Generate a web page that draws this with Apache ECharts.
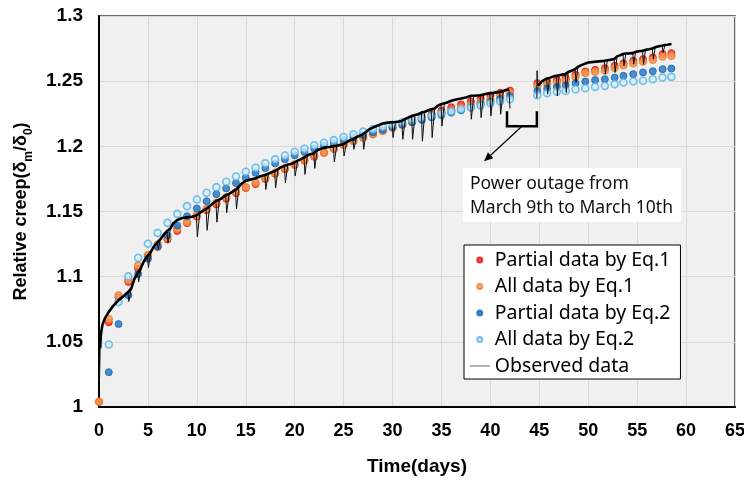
<!DOCTYPE html>
<html><head><meta charset="utf-8">
<script src="https://cdn.jsdelivr.net/npm/echarts@6/dist/echarts.min.js"></script>
<style>html,body{margin:0;padding:0;background:#fff}#c{width:744px;height:481px}</style>
</head><body><div id="c"></div>
<script>
// ---------- data ----------
const modelDays = [0,1,2,3,4,5,6,7,8,9,10,11,12,13,14,15,16,17,18,19,20,21,22,23,24,25,26,27,28,29,30,31,32,33,34,35,36,37,38,39,40,41,42,
  44.8,45.8,46.8,47.7,48.7,49.7,50.7,51.7,52.7,53.6,54.6,55.6,56.6,57.6,58.5];
const partialEq1 = [1.004,1.065,1.084,1.096,1.106,1.1156,1.1228,1.1285,1.135,1.141,1.146,1.151,1.1555,1.1598,1.164,1.168,1.171,1.175,1.179,1.1825,1.1857,1.189,1.192,1.195,1.198,1.201,1.204,1.2067,1.2095,1.212,1.2147,1.2173,1.22,1.2225,1.225,1.2275,1.23,1.2322,1.2345,1.2367,1.239,1.2412,1.2428,
  1.2485,1.2495,1.251,1.2523,1.2549,1.2575,1.2587,1.26,1.2618,1.2638,1.2656,1.2669,1.2682,1.2708,1.2715];
const allEq1 = [1.004,1.0675,1.0855,1.0975,1.1085,1.1167,1.1246,1.1297,1.1367,1.1418,1.1474,1.152,1.1567,1.161,1.1649,1.1687,1.1721,1.1759,1.1797,1.1831,1.1862,1.1895,1.1925,1.1951,1.1985,1.2013,1.2041,1.2067,1.2093,1.2118,1.2143,1.2166,1.2188,1.221,1.2232,1.2254,1.2275,1.2296,1.2318,1.2338,1.2358,1.2385,1.2413,
  1.2464,1.248,1.249,1.2503,1.2533,1.2562,1.2572,1.2582,1.2602,1.2623,1.2638,1.2651,1.2664,1.269,1.2695];
const partialEq2 = [null,1.0267,1.0636,1.0857,1.1021,1.1138,1.1233,1.1318,1.1392,1.1464,1.1523,1.1579,1.1633,1.1677,1.1718,1.1759,1.1797,1.1833,1.1869,1.19,1.1931,1.1956,1.1983,1.2005,1.2026,1.2048,1.2068,1.2088,1.2108,1.2128,1.2147,1.2166,1.2185,1.2203,1.2222,1.224,1.2258,1.2276,1.2298,1.232,1.2342,1.2364,1.2385,
  1.2425,1.2444,1.2456,1.2469,1.2485,1.2498,1.2508,1.2515,1.2528,1.2541,1.2554,1.2567,1.2577,1.2592,1.2597];
const allEq2 = [null,1.048,1.0805,1.1002,1.1144,1.1252,1.1336,1.1413,1.1482,1.1541,1.1592,1.1644,1.1687,1.1728,1.1769,1.1805,1.1836,1.1869,1.19,1.193,1.1959,1.1982,1.2008,1.2028,1.2048,1.2072,1.2092,1.2113,1.2132,1.215,1.2168,1.2185,1.2202,1.2218,1.2234,1.2252,1.2268,1.2284,1.2298,1.2314,1.233,1.2346,1.2362,
  1.2392,1.2408,1.242,1.2425,1.2438,1.2446,1.2456,1.2464,1.2477,1.249,1.2498,1.2503,1.2515,1.2528,1.2533];
// observed record [time (days), relative creep]; null = power outage gap
const observed = [
[0.05,1.020],[0.12,1.045],[0.2,1.056],[0.35,1.063],[0.6,1.068],[1.0,1.073],[1.5,1.078],[2.0,1.082],[2.5,1.085],[2.95,1.088],[3.05,1.081],[3.3,1.091],[3.6,1.098],[3.95,1.104],[4.05,1.096],[4.3,1.107],[4.6,1.112],[4.95,1.117],[5.05,1.107],[5.3,1.119],[5.6,1.123],[5.95,1.127],[6.05,1.121],[6.3,1.129],[6.6,1.132],[6.95,1.135],[7.05,1.126],[7.3,1.137],[7.6,1.141],[8.0,1.1435],[8.5,1.145],[9.0,1.1455],[9.5,1.146],[9.95,1.147],
[10.05,1.1305],[10.3,1.149],[10.6,1.1505],[10.95,1.152],[11.05,1.1356],[11.3,1.154],[11.6,1.156],[11.95,1.158],[12.05,1.1418],[12.3,1.159],[12.6,1.1605],[12.95,1.1625],[13.05,1.149],[13.3,1.1635],[13.6,1.165],[13.95,1.1665],[14.05,1.152],[14.3,1.169],[14.6,1.1715],[15.0,1.1735],[15.5,1.1745],[16.0,1.1755],[16.5,1.177],[16.95,1.178],
[17.05,1.1669],[17.3,1.179],[17.6,1.180],[17.95,1.181],[18.05,1.1682],[18.3,1.1825],[18.6,1.184],[18.95,1.185],[19.05,1.172],[19.3,1.186],[19.6,1.1865],[19.95,1.1874],[20.05,1.1772],[20.3,1.189],[20.6,1.190],[20.95,1.1913],[21.05,1.1785],[21.3,1.193],[21.6,1.194],[21.95,1.1946],[22.05,1.183],[22.3,1.197],[22.6,1.198],[23.0,1.199],[23.5,1.1995],[23.95,1.2],
[24.05,1.188],[24.3,1.2005],[24.6,1.201],[24.95,1.2015],[25.05,1.1926],[25.3,1.203],[25.6,1.2045],[25.95,1.2054],[26.05,1.1977],[26.3,1.207],[26.6,1.208],[26.95,1.2092],[27.05,1.1977],[27.3,1.211],[27.6,1.213],[28.0,1.2144],[28.5,1.216],[29.0,1.2175],[29.5,1.2182],[29.95,1.2185],
[30.05,1.2067],[30.3,1.2187],[30.6,1.219],[30.95,1.2195],[31.05,1.2054],[31.3,1.221],[31.6,1.222],[31.95,1.2233],[32.05,1.2054],[32.3,1.224],[32.6,1.2246],[32.95,1.2259],[33.05,1.204],[33.3,1.2265],[33.6,1.2275],[33.95,1.2285],[34.05,1.2067],[34.3,1.229],[34.6,1.231],[34.95,1.2323],[35.05,1.2156],[35.3,1.233],[35.6,1.2336],[36.0,1.235],[36.5,1.236],[37.0,1.2367],[37.5,1.2375],[37.95,1.2387],
[38.05,1.2208],[38.3,1.2388],[38.6,1.239],[38.95,1.2392],[39.05,1.222],[39.3,1.2398],[39.6,1.2403],[39.95,1.2408],[40.05,1.2233],[40.3,1.241],[40.6,1.2414],[40.95,1.2418],[41.05,1.2246],[41.3,1.2425],[41.6,1.2432],[41.9,1.2438],[42.0,1.229],
[43.0,null],
[44.75,1.237],[44.77,1.258],[44.85,1.2465],[45.3,1.25],[45.75,1.252],[45.85,1.240],[46.05,1.2525],[46.4,1.2535],[46.75,1.2541],[46.85,1.2387],[47.0,1.2545],[47.3,1.255],[47.65,1.2554],[47.75,1.2413],[47.95,1.257],[48.3,1.258],[48.65,1.2592],[48.75,1.249],[48.95,1.261],[49.3,1.2623],[50.0,1.2643],[50.8,1.265],
[51.65,1.2656],[51.75,1.2554],[51.95,1.266],[52.3,1.2665],[52.65,1.2669],[52.75,1.2567],[52.95,1.269],[53.3,1.270],[53.55,1.2708],[53.65,1.2618],[53.85,1.2712],[54.2,1.2713],[54.55,1.2715],[54.65,1.263],[54.85,1.2725],[55.2,1.273],[55.55,1.2733],[55.65,1.263],[55.85,1.274],[56.2,1.2745],[56.55,1.2751],[56.65,1.2669],[56.85,1.276],[57.2,1.2768],[57.55,1.2772],[57.65,1.272],[57.85,1.2778],[58.1,1.278],[58.5,1.2785]
];
const outageDays = [41.7, 44.75];
const seriesNames = ['Partial data by Eq.1','All data by Eq.1','Partial data by Eq.2','All data by Eq.2','Observed data'];
const annotationLines = ['Power outage from','March 9th to March 10th'];

// ---------- build ----------
function pairs(ys){ return modelDays.map((d,i)=>[d, ys[i] === null ? '-' : ys[i]]); }
const obsLine = observed.map(p => [p[0], p[1] === null ? '-' : p[1]]);
// upper envelope (thick part): drop isolated dips / spikes
const envelope = observed.filter((p,i)=>{
  if (p[1] === null) return true;
  const nb = [observed[i-1], observed[i+1]].filter(q => q && q[1] !== null).map(q => p[1]-q[1]);
  if (!nb.length) return true;
  const allDown = nb.every(d => d < -0.004), allUp = nb.every(d => d > 0.004);
  return !(allDown || allUp);
}).map(p => [p[0], p[1] === null ? '-' : p[1]]);

const chart = echarts.init(document.getElementById('c'), null, {renderer:'canvas'});
const mk = (name, data, color, border, bw) => ({
  name, type:'scatter', data, symbol:'circle', symbolSize:7, z:3,
  itemStyle:{color, borderColor:border, borderWidth:bw}
});
const option = {
  animation:false,
  backgroundColor:'#ffffff',
  grid:{left:99, right:9, top:16, bottom:74, containLabel:false, outerBoundsMode:'none',
    show:true, backgroundColor:'#f0f0f0', borderColor:'#3a3a3a', borderWidth:1.5},
  xAxis:{
    type:'value', min:0, max:65, interval:5,
    name:'Time(days)', nameLocation:'middle', nameGap:50,
    nameTextStyle:{fontFamily:'Liberation Sans Narrow, Liberation Sans', fontWeight:'bold', fontSize:19, color:'#000'},
    axisLine:{show:true, onZero:false, lineStyle:{color:'#000', width:2}},
    axisTick:{show:false},
    axisLabel:{fontFamily:'Liberation Sans Narrow, Liberation Sans', fontWeight:'bold', fontSize:18, color:'#000', margin:15},
    splitLine:{show:true, lineStyle:{color:'#d9d9d9', width:1}}
  },
  yAxis:{
    type:'value', min:1, max:1.3, interval:0.05,
    name:'{a|Relative creep(δ}{s|m}{a|/δ}{s|0}{a|)}', nameLocation:'middle', nameGap:63,
    nameTextStyle:{rich:{
      a:{fontFamily:'Liberation Sans', fontWeight:'bold', fontSize:18, color:'#000', lineHeight:20, verticalAlign:'top'},
      s:{fontFamily:'Liberation Sans', fontWeight:'bold', fontSize:12, color:'#000', lineHeight:23, verticalAlign:'bottom'}
    }},
    axisLine:{show:true, onZero:false, lineStyle:{color:'#000', width:2}},
    axisTick:{show:false},
    axisLabel:{fontFamily:'Liberation Sans', fontWeight:'bold', fontSize:19, color:'#000', margin:16,
      formatter:v => String(+v.toFixed(2))},
    splitLine:{show:true, lineStyle:{color:'#d9d9d9', width:1}}
  },
  legend:{
    orient:'vertical', left:464, top:245,
    backgroundColor:'#ffffff', borderColor:'#000', borderWidth:1,
    padding:[5,10,3,5], itemGap:6.5, itemWidth:20, itemHeight:5, itemTextGap:5,
    textStyle:{fontFamily:'Noto Sans', fontSize:19.5, color:'#000', lineHeight:20},
    data:[
      {name:seriesNames[0], icon:'circle'},
      {name:seriesNames[1], icon:'circle'},
      {name:seriesNames[2], icon:'circle'},
      {name:seriesNames[3], icon:'circle'},
      {name:seriesNames[4], lineStyle:{color:'#9a9a9a', width:1.5}, itemStyle:{color:'rgba(0,0,0,0)', borderColor:'rgba(0,0,0,0)', borderWidth:0}}
    ]
  },
  series:[
    mk(seriesNames[0], pairs(partialEq1), '#f52a1c', '#e0150c', 1),
    mk(seriesNames[1], pairs(allEq1), '#f8a35a', '#ee7a2c', 1.5),
    mk(seriesNames[2], pairs(partialEq2), '#1f73c5', '#1764ae', 1),
    mk(seriesNames[3], pairs(allEq2), '#d6eefa', '#52b2e6', 1.6),
    {name:seriesNames[4], type:'line', data:obsLine, symbol:'none', showSymbol:false, connectNulls:false, z:4,
      lineStyle:{color:'#111', width:1}},
    {name:'_env', type:'line', data:envelope, symbol:'none', showSymbol:false, connectNulls:false, z:4,
      lineStyle:{color:'#000', width:2.6}, legendHoverLink:false}
  ]
};
chart.setOption(option);

// annotation: outage bracket, arrow and note box
const P = (x,y) => chart.convertToPixel({gridIndex:0}, [x,y]);
const bl = P(outageDays[0], 1.227), br = P(outageDays[1], 1.227);
const bb = P(outageDays[0], 1.2154)[1];
const midX = (bl[0]+br[0])/2;
const tip = P(39.35, 1.1885);
const ang = Math.atan2(tip[1]-bb, tip[0]-midX);
const hl = 9, hw = 4;
const back = [tip[0]-hl*Math.cos(ang), tip[1]-hl*Math.sin(ang)];
const head = [tip, [back[0]+hw*Math.sin(ang), back[1]-hw*Math.cos(ang)], [back[0]-hw*Math.sin(ang), back[1]+hw*Math.cos(ang)]];
chart.setOption({graphic:[
  {type:'polyline', z:10, shape:{points:[[bl[0],bl[1]],[bl[0],bb],[br[0],bb],[br[0],br[1]]]}, style:{stroke:'#000', lineWidth:2.5, fill:null}},
  {type:'line', z:10, shape:{x1:midX, y1:bb, x2:back[0], y2:back[1]}, style:{stroke:'#000', lineWidth:1.2}},
  {type:'polygon', z:10, shape:{points:head}, style:{fill:'#000'}},
  {type:'rect', z:9, shape:{x:463, y:168, width:218, height:54}, style:{fill:'#ffffff'}},
  {type:'text', z:11, left:470, top:172, style:{text:annotationLines.join('\n'), fontFamily:'Noto Sans', fontSize:17.5, lineHeight:24, fill:'#111'}}
]});
</script></body></html>
